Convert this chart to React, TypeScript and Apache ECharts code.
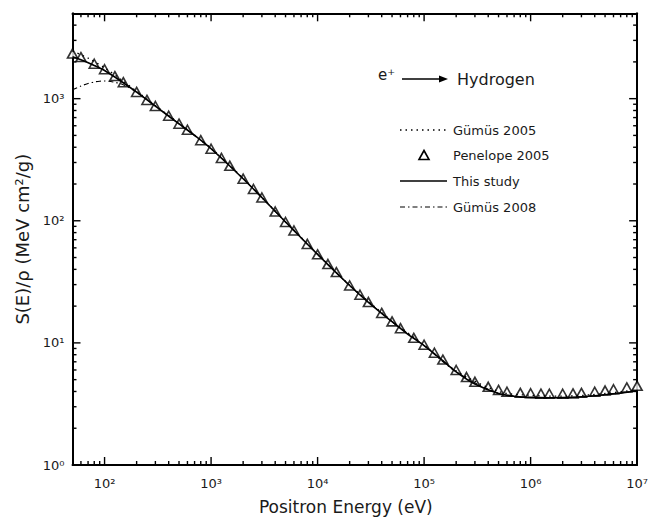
import React, { useEffect, useRef } from "react";
import * as echarts from "echarts";

// ---- data (energy in eV, stopping power in MeV cm^2/g) ----
const gumus2005E = [50, 70, 100, 150, 200, 300, 500, 1e3, 2e3, 5e3, 1e4, 2e4, 5e4, 1e5, 2e5, 5e5, 1e6, 2e6, 5e6, 1e7];
const gumus2005S = [2450, 2150, 1790, 1390, 1150, 878, 628, 392, 223, 98.5, 53.5, 29.7, 15.1, 9.6, 5.9, 4.0, 3.72, 3.66, 3.85, 4.15];

const penelopeE = [
  50, 60, 80,
  100, 125, 150, 200, 250, 300, 400, 500, 600, 800,
  1e3, 1.25e3, 1.5e3, 2e3, 2.5e3, 3e3, 4e3, 5e3, 6e3, 8e3,
  1e4, 1.25e4, 1.5e4, 2e4, 2.5e4, 3e4, 4e4, 5e4, 6e4, 8e4,
  1e5, 1.25e5, 1.5e5, 2e5, 2.5e5, 3e5, 4e5, 5e5, 6e5, 8e5,
  1e6, 1.25e6, 1.5e6, 2e6, 2.5e6, 3e6, 4e6, 5e6, 6e6, 8e6,
  1e7,
];
const penelopeS = [
  2340, 2190, 1930,
  1740, 1530, 1365, 1135, 977, 871, 724, 624, 556, 457,
  389, 327, 282, 221, 182, 155, 119, 97.7, 83.2, 64.6,
  53.1, 44.2, 38.0, 29.5, 24.8, 21.6, 17.6, 15.0, 13.2, 11.0,
  9.66, 8.3, 7.3, 6.0, 5.25, 4.8, 4.37, 4.12, 3.98, 3.9,
  3.87, 3.84, 3.83, 3.83, 3.86, 3.9, 3.98, 4.07, 4.17, 4.32,
  4.45,
];

const thisStudyE = [50, 60, 80, 100, 150, 200, 300, 500, 700, 1e3, 2e3, 3e3, 5e3, 7e3, 1e4, 2e4, 3e4, 5e4, 7e4, 1e5, 1.5e5, 2e5, 3e5, 5e5, 7e5, 1e6, 1.5e6, 2e6, 3e6, 5e6, 7e6, 1e7];
const thisStudyS = [2200, 2080, 1870, 1700, 1350, 1130, 868, 622, 500, 389, 221, 155, 97.7, 72.6, 53.0, 29.5, 21.5, 14.9, 11.8, 9.5, 7.15, 5.8, 4.6, 3.85, 3.66, 3.58, 3.55, 3.56, 3.62, 3.76, 3.88, 4.05];

const gumus2008E = [50, 60, 70, 80, 90, 100, 120, 150, 200, 300, 500, 1e3, 2e3, 5e3, 1e4, 2e4, 5e4, 1e5, 2e5, 5e5, 1e6, 2e6, 5e6, 1e7];
const gumus2008S = [1180, 1270, 1330, 1370, 1390, 1395, 1370, 1300, 1130, 868, 622, 389, 221, 97.7, 53.0, 29.5, 14.9, 9.5, 5.8, 3.85, 3.58, 3.56, 3.76, 4.05];

const xTickExponents = [2, 3, 4, 5, 6, 7];
const yTickExponents = [0, 1, 2, 3];
const X_MIN = 50;
const X_MAX = 1e7;
const Y_MIN = 1;
const Y_MAX = 5000;

const seriesNames = ["Gümüs 2005", "Penelope 2005", "This study", "Gümüs 2008"];

// ---- helpers ----
const LOG = Math.log10;
const toPairs = (xs: number[], ys: number[]) => xs.map((x, i) => [LOG(x), LOG(ys[i])]);
const SUP = "⁰¹²³⁴⁵⁶⁷⁸⁹";
const powLabel = (v: number) => "10" + SUP[Math.round(v)];
const minorVals = (lo: number, hi: number) => {
  const out: number[] = [];
  for (let n = 0; n < 8; n++)
    for (let k = 2; k <= 9; k++) {
      const v = k * Math.pow(10, n);
      if (v > lo && v < hi) out.push(LOG(v));
    }
  return out;
};

const FONT = "'DejaVu Sans', sans-serif";
const TXT = "#1a1a1a";

const W = 651;
const H = 520;
const GRID = { left: 72.5, right: 12, top: 13.3, bottom: 52.3 };

function makeAxis(kind: "x" | "y", position: string, labels: boolean, extra: any = {}) {
  const min = kind === "x" ? LOG(X_MIN) : LOG(Y_MIN);
  const max = kind === "x" ? LOG(X_MAX) : LOG(Y_MAX);
  const majors = kind === "x" ? xTickExponents : yTickExponents;
  return {
    type: "value",
    position,
    min,
    max,
    splitLine: { show: false },
    axisLine: { show: true, onZero: false, lineStyle: { color: "#000", width: 2 } },
    axisTick: { show: false },
    axisLabel: {
      show: labels,
      customValues: majors,
      formatter: powLabel,
      margin: kind === "x" ? 12 : 8,
      fontSize: 13,
      fontFamily: FONT,
      color: TXT,
    },
    ...extra,
  };
}

export default function App() {
  const ref = useRef<HTMLDivElement>(null);

  useEffect(() => {
    if (!ref.current) return;
    const chart = echarts.init(ref.current, null, { renderer: "svg" });

    const LX0 = 400;
    const LX1 = 447;
    const LTX = 453;
    const legendRows = [130, 155, 181, 207];
    const legendText = (i: number) => ({
      type: "text",
      x: LTX,
      y: legendRows[i],
      style: {
        text: seriesNames[i],
        fontSize: 13,
        fontFamily: FONT,
        fill: TXT,
        verticalAlign: "middle",
        align: "left",
      },
    });

    const baseGraphic: any[] = [
      {
        type: "text",
        x: 378,
        y: 67,
        style: { text: "e⁺", fontSize: 15, fontFamily: FONT, fill: TXT },
      },
      {
        type: "line",
        shape: { x1: 402, y1: 79, x2: 441, y2: 79 },
        style: { stroke: "#000", lineWidth: 1.5 },
      },
      {
        type: "polygon",
        shape: { points: [[439, 75.5], [448, 79], [439, 82.5]] },
        style: { fill: "#000" },
      },
      {
        type: "text",
        x: 457,
        y: 79,
        style: { text: "Hydrogen", fontSize: 16, fontFamily: FONT, fill: TXT, verticalAlign: "middle" },
      },
      {
        type: "line",
        shape: { x1: LX0, y1: legendRows[0], x2: LX1, y2: legendRows[0] },
        style: { stroke: "#000", lineWidth: 1.3, lineDash: [1.5, 4] },
      },
      legendText(0),
      {
        type: "polygon",
        shape: {
          points: [
            [424, legendRows[1] - 4.5],
            [429, legendRows[1] + 4.5],
            [419, legendRows[1] + 4.5],
          ],
        },
        style: { fill: "#fff", stroke: "#000", lineWidth: 1.6 },
      },
      legendText(1),
      {
        type: "line",
        shape: { x1: LX0, y1: legendRows[2], x2: LX1, y2: legendRows[2] },
        style: { stroke: "#000", lineWidth: 1.6 },
      },
      legendText(2),
      {
        type: "line",
        shape: { x1: LX0, y1: legendRows[3], x2: LX1, y2: legendRows[3] },
        style: { stroke: "#000", lineWidth: 1.1, lineDash: [5, 3, 1.5, 3] },
      },
      legendText(3),
    ];

    const option: any = {
      animation: false,
      backgroundColor: "#fff",
      grid: GRID,
      xAxis: [
        makeAxis("x", "bottom", true, {
          name: "Positron Energy (eV)",
          nameLocation: "middle",
          nameGap: 33,
          nameTextStyle: { fontSize: 17, fontFamily: FONT, color: TXT, padding: [0, 18, 0, 0] },
        }),
        makeAxis("x", "top", false),
      ],
      yAxis: [
        makeAxis("y", "left", true, {
          name: "S(E)/ρ (MeV cm²/g)",
          nameLocation: "middle",
          nameGap: 36,
          nameRotate: 90,
          nameTextStyle: { fontSize: 18, fontFamily: FONT, color: TXT },
        }),
        makeAxis("y", "right", false),
      ],
      series: [
        {
          name: "Gümüs 2005",
          type: "line",
          data: toPairs(gumus2005E, gumus2005S),
          symbol: "none",
          showSymbol: false,
          smooth: 0.3,
          lineStyle: { color: "#000", width: 1.3, type: [1.5, 4] },
        },
        {
          name: "This study",
          type: "line",
          data: toPairs(thisStudyE, thisStudyS),
          symbol: "none",
          showSymbol: false,
          smooth: 0.3,
          lineStyle: { color: "#000", width: 1.6, type: "solid" },
        },
        {
          name: "Gümüs 2008",
          type: "line",
          data: toPairs(gumus2008E, gumus2008S),
          symbol: "none",
          showSymbol: false,
          smooth: 0.3,
          lineStyle: { color: "#000", width: 1.1, type: [5, 3, 1.5, 3] },
        },
        {
          name: "Penelope 2005",
          type: "scatter",
          data: toPairs(penelopeE, penelopeS),
          symbol: "triangle",
          symbolSize: [10, 9],
          itemStyle: { color: "#fff", borderColor: "#000", borderWidth: 1.6 },
        },
      ],
      graphic: baseGraphic,
    };

    chart.setOption(option);

    // tick marks on all four sides, drawn as thin filled rects
    const xmn = LOG(X_MIN), xmx = LOG(X_MAX), ymn = LOG(Y_MIN), ymx = LOG(Y_MAX);
    const plotW = W - GRID.left - GRID.right;
    const plotH = H - GRID.top - GRID.bottom;
    const toPx = (x: number, y: number): number[] => {
      let p: any = null;
      try {
        p = chart.convertToPixel({ gridIndex: 0 } as any, [x, y]);
      } catch (e) {
        p = null;
      }
      if (!p || !isFinite(p[0]) || !isFinite(p[1])) {
        p = [
          GRID.left + ((x - xmn) / (xmx - xmn)) * plotW,
          GRID.top + (1 - (y - ymn) / (ymx - ymn)) * plotH,
        ];
      }
      return p;
    };
    const MAJOR = 8;
    const MINOR = 4;
    const TW = 1.4;
    const tickGraphic: any[] = [];
    const box = (x: number, y: number, w: number, h: number) =>
      tickGraphic.push({
        type: "rect",
        silent: true,
        z: 100,
        shape: { x, y, width: w, height: h },
        style: { fill: "#000" },
      });
    const addX = (v: number, len: number) => {
      const b = toPx(v, ymn);
      const t = toPx(v, ymx);
      box(b[0] - TW / 2, b[1] - len, TW, len);
      box(t[0] - TW / 2, t[1], TW, len);
    };
    const addY = (v: number, len: number) => {
      const l = toPx(xmn, v);
      const r = toPx(xmx, v);
      box(l[0], l[1] - TW / 2, len, TW);
      box(r[0] - len, r[1] - TW / 2, len, TW);
    };
    xTickExponents.forEach((v) => addX(v, MAJOR));
    minorVals(X_MIN, X_MAX).forEach((v) => addX(v, MINOR));
    yTickExponents.forEach((v) => addY(v, MAJOR));
    minorVals(Y_MIN, Y_MAX).forEach((v) => addY(v, MINOR));

    chart.setOption({ graphic: baseGraphic.concat(tickGraphic) });

    return () => chart.dispose();
  }, []);

  return (
    <div
      ref={ref}
      style={{ position: "fixed", left: 0, top: 0, width: W, height: H, background: "#fff" }}
    />
  );
}
